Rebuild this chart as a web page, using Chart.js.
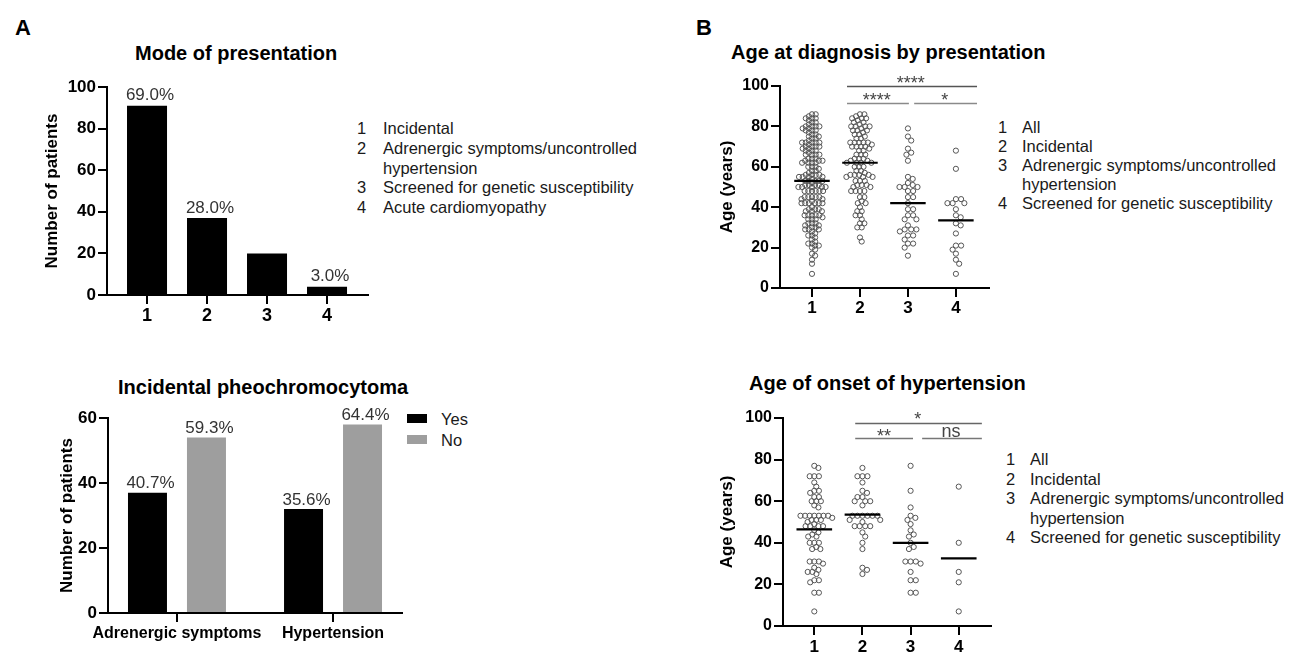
<!DOCTYPE html>
<html><head><meta charset="utf-8">
<script src="https://cdn.jsdelivr.net/npm/chart.js@4.4.1/dist/chart.umd.min.js"></script>
<style>
html,body{margin:0;padding:0;background:#fff;}
body{width:1293px;height:652px;position:relative;overflow:hidden;font-family:"Liberation Sans",Arial,Helvetica,sans-serif;}
canvas{position:absolute;}
.t{position:absolute;white-space:nowrap;color:#000;}
.title{font-weight:bold;font-size:20px;line-height:20px;}
.letter{font-weight:bold;font-size:22px;line-height:22px;}
.leg{position:absolute;font-size:16.5px;color:#1a1a1a;}
.leg .row{display:flex;}
.leg .num{flex:0 0 auto;}
.leg .txt{white-space:normal;}
.box{position:absolute;}
</style></head><body>
<script>
// ---------- DATA ----------
const modeTicks = ['1','2','3','4'];
const modeNames = ['Incidental','Adrenergic symptoms/uncontrolled hypertension','Screened for genetic susceptibility','Acute cardiomyopathy'];
const modeCounts = [91, 37, 20, 4];
const modeLabels = ['69.0%','28.0%','','3.0%'];

const incidCategories = ['Adrenergic symptoms','Hypertension'];
const incidSeries = ['Yes','No'];
const incidYes = [37, 32];
const incidNo = [54, 58];
const incidYesLabels = ['40.7%','35.6%'];
const incidNoLabels = ['59.3%','64.4%'];

const groupTicks = ['1','2','3','4'];
const groupNames = ['All','Incidental','Adrenergic symptoms/uncontrolled hypertension','Screened for genetic susceptibility'];

const diagIncidental = [86,86,85,84,84,84,83,82,82,81,80,80,80,80,79,78,78,78,77,76,76,75,74,74,72,72,72,72,72,71,70,70,70,70,69,68,68,66,66,66,64,64,64,63,63,62,62,62,62,60,60,60,58,58,57,56,56,56,56,55,55,55,53,53,53,51,51,51,50,50,48,48,48,48,45,45,43,42,42,40,38,38,36,36,34,32,32,30,30,25,23];
const diagAdrenergic = [79,75,73,69,67,66,63,55,54,52,51,50,50,50,48,48,45,45,42,39,39,36,36,34,34,31,29,29,29,28,26,26,24,22,22,20,16];
const diagScreened = [68,59,44,44,42,42,42,39,36,35,32,31,27,21,21,19,17,14,12,7];
const diagAcute = [53,53,45,38];
const diagAll = [...diagIncidental, ...diagAdrenergic, ...diagScreened, ...diagAcute];
const diagCentre = [53, 62, 42, 33.5];

const onsetIncidental = [76,72,72,72,69,65,64,62,62,60,60,60,58,53,53,53,53,53,53,51,51,50,48,48,48,48,45,43,40,37,28,27,25];
const onsetAdrenergic = [77,65,57,53,52,51,49,46,44,43,40,38,37,31,31,31,30,26,22,22,16,16];
const onsetScreened = [67,40,26,21,7];
const onsetAll = [...onsetIncidental, ...onsetAdrenergic, ...onsetScreened];
const onsetCentre = [46.5, 53.5, 40, 32.5];

// significance annotations (group positions in axis units)
const diagBrackets = [
  {from:1.73, to:4.44, y:100,  text:'****', at:3.06, ty:98.5, color:'#555'},
  {from:1.73, to:3.02, y:91.7, text:'****', at:2.35, ty:90.1, color:'#8a8a8a'},
  {from:3.13, to:4.44, y:91.7, text:'*',    at:3.77, ty:90.1, color:'#8a8a8a'}
];
const onsetBrackets = [
  {from:1.85, to:4.48, y:97.6, text:'*',  at:3.15, ty:96.7, color:'#666'},
  {from:1.85, to:3.05, y:90.4, text:'**', at:2.45, ty:88.6, color:'#777'},
  {from:3.24, to:4.48, y:90.4, text:'ns', at:3.84, ty:91.0, color:'#777'}
];

// ---------- SETUP ----------
const FONT = '"Liberation Sans", Arial, Helvetica, sans-serif';
Chart.defaults.font.family = FONT;
Chart.defaults.color = '#000';
Chart.defaults.animation = false;
Chart.defaults.events = [];
Chart.defaults.plugins.legend.display = false;
Chart.defaults.plugins.tooltip.enabled = false;

function addText(cls, txt, left, top, extra){
  const d = document.createElement('div');
  d.className = 't ' + cls; d.textContent = txt;
  d.style.left = left + 'px'; d.style.top = top + 'px';
  if (extra) Object.assign(d.style, extra);
  document.body.appendChild(d); return d;
}
function addLegend(left, top, nums, names, numW, textW, lh){
  const c = document.createElement('div');
  c.className = 'leg'; c.style.left = left + 'px'; c.style.top = top + 'px'; c.style.lineHeight = lh + 'px';
  names.forEach((n,i)=>{
    const r = document.createElement('div'); r.className = 'row';
    const a = document.createElement('span'); a.className = 'num'; a.style.width = numW + 'px'; a.textContent = nums[i];
    const b = document.createElement('span'); b.className = 'txt'; b.style.width = textW + 'px'; b.textContent = n;
    r.appendChild(a); r.appendChild(b); c.appendChild(r);
  });
  document.body.appendChild(c);
}
function makeCanvas(l,t,w,h){
  const c = document.createElement('canvas');
  c.style.left = l + 'px'; c.style.top = t + 'px';
  c.width = w; c.height = h; c.style.width = w + 'px'; c.style.height = h + 'px';
  document.body.appendChild(c); return c.getContext('2d');
}
const gridOpts = {drawOnChartArea:false, drawTicks:true, tickLength:9, tickWidth:2, tickColor:'#000', color:'#000', lineWidth:2, offset:false};
const borderOpts = {display:true, color:'#000', width:2};

function yAxis(max, step, width, titlePad, title, tickSize){
  return {
    type:'linear', min:0, max:max,
    ticks:{stepSize:step, font:{size:tickSize, weight:'bold'}, color:'#000', padding:2},
    grid:gridOpts, border:borderOpts,
    title:{display:true, text:title, font:{size:17, weight:'bold'}, color:'#000', padding:{top:titlePad, bottom:0}},
    afterFit(s){ s.width = width; }
  };
}
function xAxis(min, max, labels, height, tickSize, pad){
  return {
    type:'linear', min:min, max:max, offset:false,
    afterBuildTicks(s){ s.ticks = labels.map((l,i)=>({value:i+1})); },
    ticks:{callback:(v,i)=>labels[i], font:{size:tickSize, weight:'bold'}, color:'#000', padding:pad, maxRotation:0, autoSkip:false},
    grid:gridOpts, border:borderOpts,
    afterFit(s){ s.height = height; }
  };
}
const barLabels = {
  id:'barLabels',
  afterDatasetsDraw(chart){
    const ctx = chart.ctx;
    chart.data.datasets.forEach((ds,i)=>{
      if (!ds.valueLabels) return;
      chart.getDatasetMeta(i).data.forEach((el,j)=>{
        const t = ds.valueLabels[j]; if (!t) return;
        ctx.save(); ctx.font = '17px ' + FONT; ctx.fillStyle = '#333';
        ctx.textAlign = 'center'; ctx.textBaseline = 'middle';
        ctx.fillText(t, el.x + 3, el.y - ds.labelGap);
        ctx.restore();
      });
    });
  }
};
function bracketPlugin(items){
  return {
    id:'brackets',
    afterDraw(chart){
      const {ctx} = chart; const x = chart.scales.x, y = chart.scales.y;
      items.forEach(b=>{
        ctx.save();
        ctx.strokeStyle = b.color; ctx.lineWidth = 1.5;
        const py = Math.round(y.getPixelForValue(b.y)) + 0.5;
        ctx.beginPath(); ctx.moveTo(x.getPixelForValue(b.from), py); ctx.lineTo(x.getPixelForValue(b.to), py); ctx.stroke();
        ctx.fillStyle = '#444'; ctx.font = '18px ' + FONT; ctx.textAlign = 'center'; ctx.textBaseline = 'alphabetic';
        ctx.fillText(b.text, x.getPixelForValue(b.at), y.getPixelForValue(b.ty));
        ctx.restore();
      });
    }
  };
}
// deterministic beeswarm layout of one group's values
function swarm(values, gx, pxX, pxY, d){
  const sorted = values.slice().sort((a,b)=>b-a);
  const placed = [], out = [];
  sorted.forEach(v=>{
    const yy = v * pxY;
    const near = placed.filter(p=>Math.abs(p.y - yy) < d);
    const cands = [0];
    near.forEach(p=>{ const w = Math.sqrt(d*d - (p.y-yy)*(p.y-yy)); cands.push(p.x - w, p.x + w); });
    cands.sort((a,b)=>Math.abs(a)-Math.abs(b) || b-a);
    let xx = 0;
    for (const c of cands){ if (near.every(p=>(p.x-c)*(p.x-c)+(p.y-yy)*(p.y-yy) >= d*d - 1e-6)){ xx = c; break; } }
    placed.push({x:xx, y:yy});
    out.push({x: gx + xx / pxX, y: v});
  });
  return out;
}

// ---------- TEXT ----------
addText('letter','A',15,17);
addText('letter','B',696,17);
addText('title','Mode of presentation',135,43);
addText('title','Incidental pheochromocytoma',118,377);
addText('title','Age at diagnosis by presentation',731,42);
addText('title','Age of onset of hypertension',749,373);
addLegend(357,119,modeTicks,modeNames,26,262,19.75);
addLegend(998,117.5,groupTicks,groupNames,24,262,19);
addLegend(1006,450,groupTicks,groupNames,24,262,19.5);
// Yes/No legend
(function(){
  const cols = ['#000','#9e9e9e'];
  incidSeries.forEach((s,i)=>{
    const b = document.createElement('div'); b.className = 'box';
    Object.assign(b.style,{left:'407px', top:(414+21*i)+'px', width:'20px', height:'9px', background:cols[i]});
    document.body.appendChild(b);
    addText('', s, 441, 409.5+21*i, {fontSize:'16.5px', lineHeight:'19px', color:'#1a1a1a'});
  });
})();

// ---------- CHART 1: Mode of presentation ----------
new Chart(makeCanvas(30,70,350,265), {
  type:'bar',
  data:{datasets:[{data:modeCounts.map((v,i)=>({x:i+1,y:v})), backgroundColor:'#000', borderWidth:0,
    barPercentage:0.667, categoryPercentage:1, valueLabels:modeLabels, labelGap:10}]},
  options:{responsive:false, devicePixelRatio:1, layout:{padding:{top:17,right:12,left:0,bottom:0}},
    scales:{x:xAxis(0.333,4.683,modeTicks,40,18,1), y:yAxis(100,20,77,11.8,'Number of patients',17)}},
  plugins:[barLabels]
});

// ---------- CHART 2: Incidental pheochromocytoma ----------
new Chart(makeCanvas(45,405,365,247), {
  type:'bar',
  data:{datasets:[
    {label:incidSeries[0], data:incidYes.map((v,i)=>({x:i+1,y:v})), backgroundColor:'#000', borderWidth:0,
      barPercentage:0.661, categoryPercentage:0.756, valueLabels:incidYesLabels, labelGap:9},
    {label:incidSeries[1], data:incidNo.map((v,i)=>({x:i+1,y:v})), backgroundColor:'#9e9e9e', borderWidth:0,
      barPercentage:0.661, categoryPercentage:0.756, valueLabels:incidNoLabels, labelGap:9}
  ]},
  options:{responsive:false, devicePixelRatio:1, layout:{padding:{top:13,right:8,left:0,bottom:0}},
    scales:{x:xAxis(0.558,2.442,incidCategories,39,16,2), y:yAxis(60,20,63,11.8,'Number of patients',17)}},
  plugins:[barLabels]
});

// ---------- scatter helper ----------
function scatterChart(ctx, groups, centre, brackets, xr, pxX, pxY, yW, xH, pad, xPad, diam){
  const pointSets = groups.map((g,i)=>({
    type:'scatter', data:swarm(g, i+1, pxX, pxY, diam[i]),
    pointRadius:2.6, pointBorderWidth:1, pointBorderColor:'#555', pointBackgroundColor:'rgba(255,255,255,0)', order:2
  }));
  const lineSets = centre.map((c,i)=>({
    type:'scatter', data:[{x:i+1-0.37,y:c},{x:i+1+0.37,y:c}], showLine:true,
    borderColor:'#000', borderWidth:2.2, pointRadius:0, order:1, clip:false
  }));
  return new Chart(ctx, {
    type:'scatter',
    data:{datasets:[...lineSets, ...pointSets]},
    options:{responsive:false, devicePixelRatio:1, layout:{padding:pad},
      scales:{x:xAxis(xr[0],xr[1],groupTicks,xH,17,xPad), y:yAxis(100,20,yW,16.8,'Age (years)',16)}},
    plugins:[bracketPlugin(brackets)]
  });
}

// ---------- CHART 3: Age at diagnosis ----------
scatterChart(makeCanvas(700,66,295,262), [diagAll, diagIncidental, diagAdrenergic, diagScreened], diagCentre, diagBrackets,
  [0.333,4.69], 48, 2.02, 80, 40, {top:20,right:6,left:0,bottom:0}, 1, [3.7, 4.4, 5.2, 5.2]);

// ---------- CHART 4: Age of onset of hypertension ----------
scatterChart(makeCanvas(700,398,297,254), [onsetAll, onsetIncidental, onsetAdrenergic, onsetScreened], onsetCentre, onsetBrackets,
  [0.35,4.67], 48.1, 2.08, 83, 26, {top:20,right:6,left:0,bottom:0}, 2, [4.6, 5.0, 5.2, 5.2]);
</script>
</body></html>
